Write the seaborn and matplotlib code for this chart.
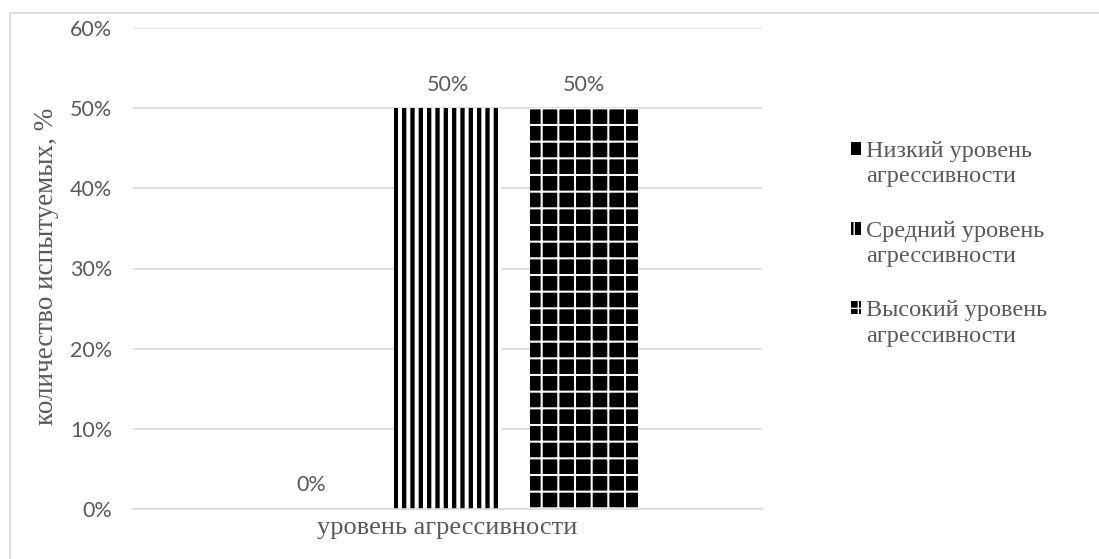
import matplotlib
matplotlib.use("Agg")
import matplotlib.pyplot as plt
from matplotlib.patches import Rectangle
from matplotlib.legend_handler import HandlerPatch
from matplotlib.ticker import PercentFormatter, MultipleLocator
import seaborn as sns
import pandas as pd

# Data
category = ["уровень агрессивности"]
series = ["Низкий уровень\nагрессивности",
          "Средний уровень\nагрессивности",
          "Высокий уровень\nагрессивности"]
values = [0, 50, 50]
y_label = "количество испытуемых, %"

df = pd.DataFrame({"cat": category * len(series), "series": series, "val": values})

sns.set_theme(style="white")
plt.rcParams["font.family"] = ["Liberation Serif", "DejaVu Sans"]
GRAY = "#595959"
TICK_FONT = "Lato"

W, H = 1099, 559
fig = plt.figure(figsize=(W / 100, H / 100), dpi=100)
ax = fig.add_axes([133 / W, 1 - 509 / H, 629 / W, 481 / H])

# outer chart frame
fig.patches.append(Rectangle((10 / W, -0.01), 1.0, 1 - 12.5 / H + 0.01,
                             transform=fig.transFigure, fill=False,
                             edgecolor="#d9d9d9", linewidth=1.2))

sns.barplot(data=df, x="cat", y="val", hue="series", ax=ax,
            palette=["black", "black", "black"], width=0.652, gap=0.21,
            saturation=1, legend=False, errorbar=None)

# bar fills: middle bar striped, right bar a white grid on black
styles = [
    dict(face="black", hatch="", hcolor="white", hlw=1.0),
    dict(face="white", hatch="||", hcolor="black", hlw=3.1),
    dict(face="black", hatch="+", hcolor="white", hlw=1.5),
]
bars = list(ax.patches)
for p, st in zip(bars, styles):
    p.set_facecolor(st["face"])
    p.set_edgecolor(st["hcolor"])
    p.set_linewidth(0)
    p.set_hatch(st["hatch"])
    if hasattr(p, "set_hatch_linewidth"):
        p.set_hatch_linewidth(st["hlw"])

# value labels
for p, v in zip(bars, values):
    ax.text(p.get_x() + p.get_width() / 2, p.get_height() + 2.95, f"{v}%",
            ha="center", va="center", fontsize=15.5, color=GRAY,
            family=TICK_FONT)

ax.set_ylim(0, 60)
ax.set_xlim(-0.5, 0.5)
ax.yaxis.set_major_locator(MultipleLocator(10))
ax.yaxis.set_major_formatter(PercentFormatter(decimals=0))
ax.grid(axis="y", color="#d9d9d9", linewidth=1.2)
ax.set_axisbelow(True)
for s in ["top", "right", "left"]:
    ax.spines[s].set_visible(False)
ax.spines["bottom"].set_color("#d9d9d9")
ax.spines["bottom"].set_linewidth(1.2)
ax.tick_params(axis="y", length=0, pad=15, labelcolor=GRAY, labelsize=15.5)
ax.tick_params(axis="x", length=0, pad=6, labelcolor=GRAY, labelsize=19)
for t in ax.get_yticklabels():
    t.set_family(TICK_FONT)
ax.set_xlabel("")
ax.set_ylabel(y_label, fontsize=19.5, color=GRAY)
ax.yaxis.set_label_coords((59 - 133) / 629, 0.505)


def small_icon(legend, orig_handle, xdescent, ydescent, width, height, fontsize):
    return Rectangle((-xdescent, -ydescent + 0.62 * fontsize), width, height)


legend_styles = [
    dict(face="black", hatch="", hcolor="white", hlw=1.0),
    dict(face="black", hatch="||", hcolor="white", hlw=2.2),
    dict(face="black", hatch="+", hcolor="white", hlw=1.2),
]
handles = []
for st in legend_styles:
    r = Rectangle((0, 0), 1, 1, facecolor=st["face"], edgecolor=st["hcolor"],
                  linewidth=0, hatch=st["hatch"])
    if hasattr(r, "set_hatch_linewidth"):
        r.set_hatch_linewidth(st["hlw"])
    handles.append(r)

leg = fig.legend(handles, series, loc="upper left",
                 bbox_to_anchor=(851 / W, 1 - 141 / H),
                 frameon=False, fontsize=17.5, labelspacing=1.36,
                 handlelength=0.42, handleheight=0.45, handletextpad=0.2,
                 borderaxespad=0, borderpad=0,
                 handler_map={Rectangle: HandlerPatch(patch_func=small_icon)})
for t in leg.get_texts():
    t.set_color(GRAY)
    t.set_linespacing(1.28)

fig.savefig("out.png", dpi=100)
